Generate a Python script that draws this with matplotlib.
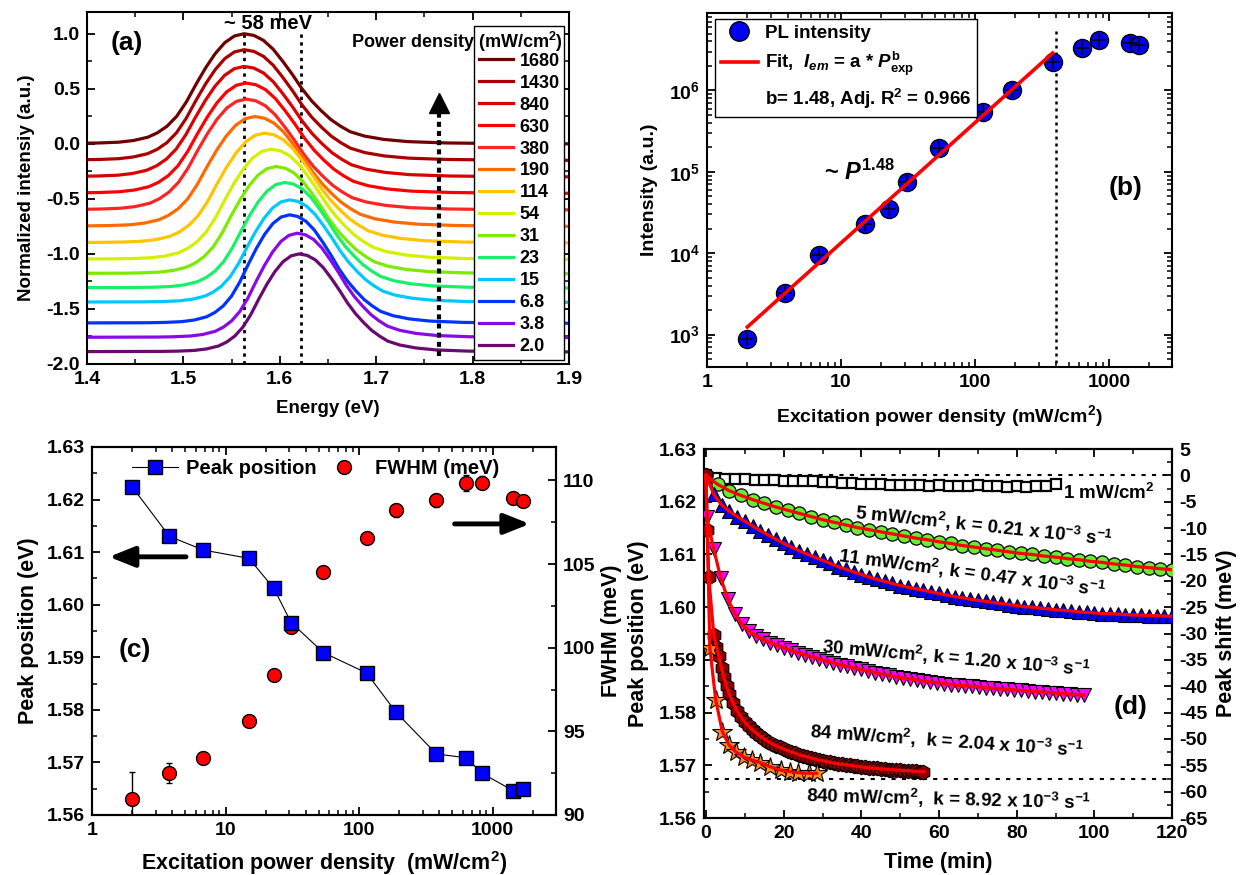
import numpy as np
import matplotlib
matplotlib.use('Agg')
import matplotlib.pyplot as plt
from matplotlib.lines import Line2D
from matplotlib.ticker import MultipleLocator, LogLocator, FuncFormatter, NullFormatter, FormatStrFormatter, FixedLocator

plt.rcParams['font.family'] = ['Liberation Sans', 'DejaVu Sans']
plt.rcParams['font.weight'] = 'bold'
plt.rcParams['axes.labelweight'] = 'bold'
plt.rcParams['mathtext.fontset'] = 'custom'
plt.rcParams['mathtext.rm'] = 'Liberation Sans:bold'
plt.rcParams['mathtext.it'] = 'Liberation Sans:italic:bold'
plt.rcParams['mathtext.bf'] = 'Liberation Sans:bold'
plt.rcParams['mathtext.default'] = 'rm'
plt.rcParams['axes.unicode_minus'] = False

# ---------------- data ----------------
# (a) PL spectra, legend order (high -> low power)
legend_a = ['1680', '1430', '840', '630', '380', '190', '114', '54', '31', '23', '15', '6.8', '3.8', '2.0']
colors_a = ['#6E0000', '#A80000', '#D80000', '#FF0000', '#FF2424', '#FF6A00', '#FFC400',
            '#D4F000', '#7CEB00', '#19F06A', '#00C8FF', '#0033FF', '#8A0AE6', '#6A0A6E']
peak_a = [1.563, 1.563, 1.563, 1.565, 1.565, 1.574, 1.584, 1.591, 1.596, 1.605, 1.610, 1.610, 1.618, 1.620]
base_a = [0.0, -0.15, -0.30, -0.45, -0.60, -0.75, -0.90, -1.05, -1.18, -1.31, -1.44, -1.63, -1.76, -1.89]
top_a = [1.0, 0.855, 0.703, 0.552, 0.406, 0.248, 0.097, -0.048, -0.206, -0.351, -0.509, -0.645, -0.812, -1.0]
# common line shape of the spectra (offset from peak in meV, normalised intensity)
profile_off = [-400, -170, -150, -130, -115, -100, -90, -80, -70, -60, -50, -40, -30, -20, -10, 0,
               10, 20, 30, 40, 50, 60, 70, 80, 90, 100, 110, 125, 145, 170, 210, 260, 340, 400]
profile_val = [0.0, 0.005, 0.008, 0.015, 0.03, 0.06, 0.10, 0.16, 0.25, 0.38, 0.54, 0.69, 0.82, 0.92, 0.98, 1.00,
               0.985, 0.94, 0.86, 0.75, 0.63, 0.50, 0.39, 0.30, 0.22, 0.16, 0.11, 0.07, 0.04, 0.02, 0.008, 0.003, 0.0, 0.0]
gap_lines_E = [1.563, 1.622]
arrow_E = 1.765

# (b),(c) power dependence (ascending power)
power = [2.0, 3.8, 6.8, 15, 23, 31, 54, 114, 190, 380, 630, 840, 1430, 1680]
pl_int = [890, 3200, 9500, 22800, 35000, 75700, 199000, 551000, 1.0e6, 2.21e6, 3.32e6, 4.12e6, 3.82e6, 3.57e6]
fit_P = [2.0, 380]
fit_I = [1240, 2.88e6]
sat_P = 400
peak_c = [1.6224, 1.6130, 1.6104, 1.6088, 1.6031, 1.5966, 1.5909, 1.5870, 1.5795, 1.5716, 1.5709, 1.5679, 1.5646, 1.5649]
fwhm_c = [90.94, 92.49, 93.42, 95.61, 98.36, 101.24, 104.53, 106.58, 108.21, 108.80, 109.84, 109.86, 108.95, 108.75]
fwhm_err = [1.6, 0.6, 0.35, 0.3, 0.2, 0.2, 0.2, 0.3, 0.4, 0.4, 0.5, 0.4, 0.35, 0.35]

# (d) time evolution of peak shift (meV)
t_1 = [0, 2.5, 5, 7.5, 10, 12.5, 15, 17.5, 20, 22.5, 25, 27.5, 30, 32.5, 35, 37.5, 40, 42.5, 45, 47.5,
       50, 52.5, 55, 57.5, 60, 62.5, 65, 67.5, 70, 72.5, 75, 77.5, 80, 82.5, 85, 87.5, 90]
s_1 = [0.0, -0.4, -0.6, -0.6, -0.7, -0.8, -0.8, -0.9, -1.0, -1.0, -1.1, -1.1, -1.2, -1.3, -1.4, -1.5, -1.6, -1.6,
       -1.6, -1.8, -1.9, -1.8, -1.9, -2.0, -1.9, -2.0, -2.0, -2.1, -1.9, -2.1, -2.0, -2.2, -2.1, -2.2, -2.0, -2.1, -1.7]
t_5 = [0, 3, 6, 9, 12, 15, 18, 21, 24, 27, 30, 33, 36, 39, 42, 45, 48, 51, 54, 57, 60, 63, 66, 69, 72, 75,
       78, 81, 84, 87, 90, 93, 96, 99, 102, 105, 108, 111, 114, 117, 120]
s_5 = [0.0, -1.7, -2.9, -3.8, -4.6, -5.3, -6.0, -6.6, -7.2, -7.8, -8.4, -8.9, -9.4, -9.9, -10.3, -10.7, -11.1,
       -11.5, -11.9, -12.2, -12.6, -12.9, -13.3, -13.6, -13.9, -14.2, -14.5, -14.8, -15.0, -15.3, -15.5, -15.8,
       -16.0, -16.3, -16.5, -16.8, -17.0, -17.3, -17.5, -17.7, -17.9]
t_11 = [0, 2, 4, 6, 8, 10, 12, 14, 16, 18, 20, 22, 24, 26, 28, 30, 32, 34, 36, 38, 40, 42, 44, 46, 48, 50,
        52, 54, 56, 58, 60, 62, 64, 66, 68, 70, 72, 74, 76, 78, 80, 82, 84, 86, 88, 90, 92, 94, 96, 98, 100,
        102, 104, 106, 108, 110, 112, 114, 116, 118, 120]
s_11 = [0.0, -3.6, -5.6, -6.8, -7.8, -8.7, -9.6, -10.5, -11.3, -12.1, -12.9, -13.6, -14.3, -14.9, -15.5, -16.1,
        -16.7, -17.3, -17.8, -18.3, -18.8, -19.3, -19.7, -20.1, -20.5, -20.9, -21.2, -21.5, -21.8, -22.1, -22.4,
        -22.7, -23.0, -23.2, -23.5, -23.7, -23.9, -24.1, -24.3, -24.5, -24.7, -24.9, -25.0, -25.2, -25.3, -25.5,
        -25.6, -25.7, -25.9, -26.0, -26.1, -26.2, -26.2, -26.3, -26.4, -26.5, -26.5, -26.6, -26.6, -26.7, -26.7]
t_30 = [0.2, 2.0, 3.8, 5.6, 7.4, 9.2, 11.0, 12.8, 14.6, 16.4, 18.2, 20.0, 21.8, 23.6, 25.4, 27.2, 29.0, 30.8,
        32.6, 34.4, 36.2, 38.0, 39.8, 41.6, 43.4, 45.2, 47.0, 48.8, 50.6, 52.4, 54.2, 56.0, 57.8, 59.6, 61.4,
        63.2, 65.0, 66.8, 68.6, 70.4, 72.2, 74.0, 75.8, 77.6, 79.4, 81.2, 83.0, 84.8, 86.6, 88.4, 90.2, 92.0,
        93.8, 95.6, 97.4]
s_30 = [-7.9, -14.0, -19.5, -23.4, -26.2, -28.2, -29.5, -30.4, -31.1, -31.7, -32.2, -32.7, -33.2, -33.6, -34.0,
        -34.4, -34.8, -35.2, -35.5, -35.9, -36.2, -36.5, -36.8, -37.1, -37.4, -37.7, -37.9, -38.2, -38.4, -38.6,
        -38.8, -39.0, -39.2, -39.3, -39.5, -39.7, -39.8, -39.9, -40.0, -40.1, -40.3, -40.4, -40.5, -40.6, -40.7,
        -40.8, -40.9, -41.0, -41.1, -41.2, -41.3, -41.4, -41.5, -41.6, -41.7]
t_84 = [0, 0.35, 0.7, 2.0, 2.7, 3.3, 4.0, 4.6, 5.3, 6.0, 7, 8, 9, 10, 11, 12, 13, 14, 15, 16, 17, 18, 19, 20,
        21, 22, 23, 24, 25, 26, 27, 28, 29, 30, 31, 32, 33, 34, 35, 36, 37, 38, 39, 40, 41, 42, 43, 44, 45, 46,
        47, 48, 49, 50, 51, 52, 53, 54, 55, 56]
s_84 = [0.0, -10.4, -19.2, -30.2, -32.5, -34.2, -36.6, -38.3, -40.0, -41.5, -43.2, -44.7, -45.8, -46.8, -47.6,
        -48.3, -48.9, -49.5, -50.0, -50.5, -50.9, -51.3, -51.6, -51.9, -52.2, -52.5, -52.7, -53.0, -53.2, -53.4,
        -53.6, -53.8, -54.0, -54.1, -54.3, -54.4, -54.6, -54.7, -54.8, -54.9, -55.0, -55.1, -55.2, -55.3, -55.4,
        -55.5, -55.5, -55.6, -55.7, -55.7, -55.8, -55.8, -55.9, -55.9, -56.0, -56.0, -56.1, -56.1, -56.2, -56.2]
t_840 = [1.0, 2.5, 4.2, 5.9, 7.6, 9.7, 11.9, 14.0, 16.6, 19.2, 21.7, 23.8, 26.4, 28.5]
s_840 = [-32.8, -42.6, -48.6, -51.1, -52.4, -53.4, -54.0, -54.5, -55.3, -55.9, -56.2, -56.4, -56.5, -56.5]
fit_start = (0.0, 0.0)
final_shift = -57.6

# ---------------- figure ----------------
fig = plt.figure(figsize=(12.47, 8.75), dpi=100)


def style(ax, top=True, right=True, left=True):
    ax.tick_params(which='both', direction='in', top=top, right=right, left=left, labelsize=14, pad=5)
    ax.tick_params(which='major', length=6, width=1.3)
    ax.tick_params(which='minor', length=3.5, width=1.1)
    for s in ax.spines.values():
        s.set_linewidth(1.5)


# ---- (a) ----
axA = fig.add_axes([0.0698, 0.584, 0.3865, 0.4026])
fw_desc = fwhm_c[::-1]
off = np.array(profile_off)
val = np.array(profile_val)
for lab, col, pk, b, tp, fw in zip(legend_a, colors_a, peak_a, base_a, top_a, fw_desc):
    E = pk + off * (fw / fw_desc[0]) / 1000.0
    axA.plot(E, b + (tp - b) * val, color=col, lw=2.3, label=lab)
for e in gap_lines_E:
    axA.plot([e, e], [-2.0, 1.02], color='k', ls=(0, (1.2, 1.6)), lw=2.0, zorder=1)
axA.plot([arrow_E, arrow_E], [-1.93, 0.33], color='k', lw=3, ls=(0, (1.2, 1.0)))
axA.plot([arrow_E], [0.37], marker='^', ms=15, color='k')
axA.set_xlim(1.4, 1.9)
axA.set_ylim(-2.0, 1.2)
axA.xaxis.set_major_locator(MultipleLocator(0.1))
axA.xaxis.set_minor_locator(MultipleLocator(0.05))
axA.yaxis.set_major_locator(MultipleLocator(0.5))
axA.yaxis.set_minor_locator(MultipleLocator(0.25))
axA.xaxis.set_major_formatter(FormatStrFormatter('%.1f'))
axA.yaxis.set_major_formatter(FormatStrFormatter('%.1f'))
style(axA)
axA.set_xlabel('Energy (eV)', fontsize=13.5, labelpad=9)
axA.set_ylabel('Normalized intensiy (a.u.)', fontsize=13.5, labelpad=8)
legA = axA.legend(loc='upper right', bbox_to_anchor=(0.99, 0.959), fontsize=13, title=' ',
                  title_fontsize=13, handlelength=1.9, handletextpad=0.35, labelspacing=0.275,
                  borderpad=0.25, borderaxespad=0, fancybox=False, framealpha=1, edgecolor='k')
legA.get_frame().set_linewidth(1.0)
axA.text(0.987, 0.914, 'Power density (mW/cm$^{2}$)', transform=axA.transAxes, ha='right', va='center',
         fontsize=13, zorder=10)
axA.text(1.588, 1.097, '~ 58 meV', ha='center', va='center', fontsize=14.5)
axA.text(1.441, 0.915, '(a)', ha='center', va='center', fontsize=19)

# ---- (b) ----
axB = fig.add_axes([0.567, 0.5806, 0.3729, 0.4046])
axB.set_xscale('log')
axB.set_yscale('log')
axB.plot(power, pl_int, 'o', ms=13, mfc='#0000FF', mec='k', mew=1, zorder=3)
axB.plot(power, pl_int, '+', ms=10, color='k', mew=1.1, zorder=4)
axB.plot(fit_P, fit_I, color='#FF0000', lw=2.6, zorder=5)
axB.plot([sat_P, sat_P], [300, 5.4e6], color='k', ls=(0, (1.2, 1.6)), lw=1.8, zorder=1)
axB.set_xlim(1, 2965)
axB.set_ylim(400, 8.96e6)
axB.xaxis.set_major_locator(LogLocator(base=10, numticks=10))
axB.xaxis.set_minor_locator(LogLocator(base=10, subs=np.arange(2, 10), numticks=20))
axB.xaxis.set_minor_formatter(NullFormatter())
axB.xaxis.set_major_formatter(FuncFormatter(lambda v, p: '%g' % v))
axB.yaxis.set_major_locator(FixedLocator([1e3, 1e4, 1e5, 1e6]))
axB.yaxis.set_minor_locator(LogLocator(base=10, subs=np.arange(2, 10), numticks=20))
axB.yaxis.set_minor_formatter(NullFormatter())
axB.yaxis.set_major_formatter(FuncFormatter(lambda v, p: r'$10^{%d}$' % int(round(np.log10(v)))))
style(axB)
axB.set_xlabel('Excitation power density (mW/cm$^{2}$)', fontsize=14, labelpad=9)
axB.set_ylabel('Intensity (a.u.)', fontsize=14, labelpad=8)
hB = [Line2D([], [], ls='none', marker='o', ms=14, mfc='#0000FF', mec='k', mew=1),
      Line2D([], [], color='#FF0000', lw=2.6),
      Line2D([], [], color='none')]
lB = ['PL intensity', r'Fit,  $\mathit{I}_{\mathit{em}}$ = a * $\mathit{P}^{\mathrm{b}}_{\mathrm{exp}}$',
      r'b= 1.48, Adj. R$^{2}$ = 0.966']
legB = axB.legend(hB, lB, loc='upper left', bbox_to_anchor=(0.017, 0.983), fontsize=13.5, handlelength=2.0,
                  handletextpad=0.35, labelspacing=0.45, borderpad=0.3, borderaxespad=0, fancybox=False,
                  framealpha=1, edgecolor='k')
legB.get_frame().set_linewidth(1.0)
axB.text(13.7, 1.0e5, r'~ $\mathit{P}^{\mathrm{1.48}}$', ha='center', va='center', fontsize=17)
axB.text(1340, 6.3e4, '(b)', ha='center', va='center', fontsize=19)

# ---- (c) ----
axC = fig.add_axes([0.0738, 0.0686, 0.3721, 0.4206])
axC2 = axC.twinx()
axC.set_zorder(axC2.get_zorder() + 1)
axC.patch.set_visible(False)
axC.set_xscale('log')
axC.plot(power, peak_c, '-s', color='k', lw=0.8, ms=9.5, mfc='#0000FF', mec='k', mew=1)
axC2.errorbar(power, fwhm_c, yerr=fwhm_err, fmt='o', ms=10, mfc='#FF0000', mec='k', mew=1,
              ecolor='k', elinewidth=1, capsize=2.5, capthick=1)
axC.set_xlim(1, 2990)
axC.set_ylim(1.56, 1.63)
axC2.set_ylim(90, 112)
axC.xaxis.set_major_locator(LogLocator(base=10, numticks=10))
axC.xaxis.set_minor_locator(LogLocator(base=10, subs=np.arange(2, 10), numticks=20))
axC.xaxis.set_minor_formatter(NullFormatter())
axC.xaxis.set_major_formatter(FuncFormatter(lambda v, p: '%g' % v))
axC.yaxis.set_major_locator(MultipleLocator(0.01))
axC.yaxis.set_minor_locator(MultipleLocator(0.005))
axC.yaxis.set_major_formatter(FormatStrFormatter('%.2f'))
axC2.yaxis.set_major_locator(MultipleLocator(5))
axC2.yaxis.set_minor_locator(MultipleLocator(2.5))
style(axC, right=False)
style(axC2, top=False, left=False)
axC.set_xlabel('Excitation power density  (mW/cm$^{2}$)', fontsize=15.5, labelpad=7)
axC.set_ylabel('Peak position (eV)', fontsize=15.5, labelpad=6)
axC2.set_ylabel('FWHM (meV)', fontsize=15.5, labelpad=4)
hC = [Line2D([], [], color='k', lw=0.8, marker='s', ms=9.5, mfc='#0000FF', mec='k', mew=1),
      Line2D([], [], ls='none', marker='o', ms=10, mfc='#FF0000', mec='k', mew=1)]
axC.legend(hC, ['Peak position', 'FWHM (meV)'], loc='upper left', bbox_to_anchor=(0.06, 1.0), ncol=2,
           frameon=False, fontsize=14.5, handlelength=2.3, handletextpad=0.4, columnspacing=0.2,
           borderaxespad=0.2)
arw = dict(arrowstyle='-|>,head_length=0.55,head_width=0.22', lw=3.5, color='k', mutation_scale=28,
           shrinkA=0, shrinkB=0)
axC.annotate('', xy=(1.34, 1.6091), xytext=(5.06, 1.6091), arrowprops=arw)
axC2.annotate('', xy=(1900, 107.4), xytext=(520, 107.4), arrowprops=arw)
axC.text(2.1, 1.5914, '(c)', ha='center', va='center', fontsize=19)

# ---- (d) ----
axD = fig.add_axes([0.5646, 0.0651, 0.3753, 0.4217])
axD2 = axD.twinx()
axD2.axhline(0, color='k', ls=(0, (2, 3)), lw=1.5, zorder=1)
axD2.axhline(final_shift, color='k', ls=(0, (2, 3)), lw=1.5, zorder=1)
axD2.plot(t_1, s_1, 's', ms=7, mfc='white', mec='k', mew=1.6, zorder=3)
axD2.plot(t_5, s_5, 'o', ms=9.5, mfc='#66EE33', mec='k', mew=0.9, zorder=3)
axD2.plot(t_11, s_11, '^', ms=10, mfc='#0000FF', mec='k', mew=0.8, zorder=3)
axD2.plot(t_30, s_30, 'v', ms=10, mfc='#FF00FF', mec='k', mew=0.8, zorder=3)
axD2.plot(t_84, s_84, 'h', ms=10.5, mfc='#8B0000', mec='k', mew=0.8, zorder=3)
axD2.plot(t_840, s_840, '*', ms=15, mfc='#FF8C1A', mec='k', mew=0.8, zorder=3)
for tt, ss in [(t_5, s_5), (t_11, s_11), (t_84, s_84)]:
    axD2.plot(tt, ss, color='#FF0000', lw=2.3, zorder=5)
for tt, ss in [(t_30, s_30), (t_840, s_840)]:
    axD2.plot([fit_start[0]] + tt, [fit_start[1]] + ss, color='#FF0000', lw=2.3, zorder=5)
axD.set_xlim(-0.5, 120)
axD.set_ylim(1.56, 1.63)
axD2.set_ylim(-65, 5)
axD.xaxis.set_major_locator(MultipleLocator(20))
axD.xaxis.set_minor_locator(MultipleLocator(10))
axD.yaxis.set_major_locator(MultipleLocator(0.01))
axD.yaxis.set_minor_locator(MultipleLocator(0.005))
axD.yaxis.set_major_formatter(FormatStrFormatter('%.2f'))
axD2.yaxis.set_major_locator(MultipleLocator(5))
axD2.yaxis.set_minor_locator(MultipleLocator(2.5))
style(axD, right=False)
style(axD2, top=False, left=False)
axD.set_xlabel('Time (min)', fontsize=15.5, labelpad=7)
axD.set_ylabel('Peak position (eV)', fontsize=15.5, labelpad=7)
axD2.set_ylabel('Peak shift (meV)', fontsize=15.5, labelpad=6)
txt = [('1 mW/cm$^{2}$', 103.8, -3.4, 0),
       ('5 mW/cm$^{2}$, k = 0.21 x 10$^{-3}$ s$^{-1}$', 71.5, -9.7, -6),
       ('11 mW/cm$^{2}$, k = 0.47 x 10$^{-3}$ s$^{-1}$', 68.5, -18.6, -7.5),
       ('30 mW/cm$^{2}$, k = 1.20 x 10$^{-3}$ s$^{-1}$', 64.5, -34.6, -5),
       ('84 mW/cm$^{2}$,  k = 2.04 x 10$^{-3}$ s$^{-1}$', 62, -50.4, -4),
       ('840 mW/cm$^{2}$,  k = 8.92 x 10$^{-3}$ s$^{-1}$', 62.5, -61.5, -1.5)]
for s, x, y, r in txt:
    axD2.text(x, y, s, ha='center', va='center', rotation=r, rotation_mode='anchor', fontsize=13.5, zorder=6)
axD2.text(109.3, -43.9, '(d)', ha='center', va='center', fontsize=19)

fig.savefig('out.png', dpi=100)
